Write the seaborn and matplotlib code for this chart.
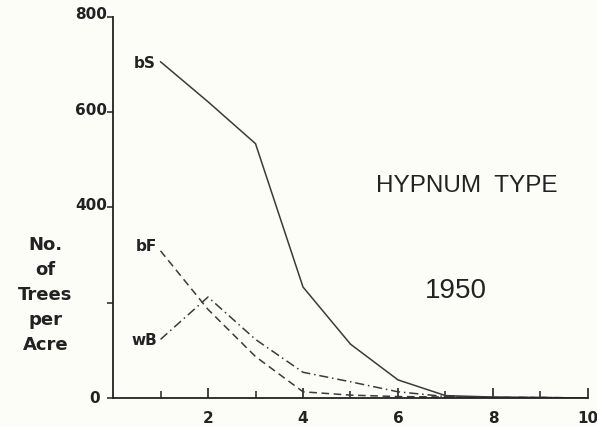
import matplotlib
matplotlib.use("Agg")
import matplotlib.pyplot as plt
import matplotlib.transforms as mtransforms
import seaborn as sns
import pandas as pd

# Data
x_vals = [1, 2, 3, 4, 5, 6, 7, 8, 9, 10]
bS = [706, 622, 534, 233, 113, 38, 5, 2, 1, 0]
bF = [309, 186, 87, 13, 6, 3, 2, 1, 1, 0]
wB = [123, 212, 123, 54, 34, 13, 3, 1, 1, 0]
y_ticks = [0, 200, 400, 600, 800]
y_tick_labels = ["0", "", "400", "600", "800"]
x_ticks = [2, 4, 6, 8, 10]
x_tick_labels = ["2", "4", "6", "8", "10"]

rows = []
for name, vals in [("bS", bS), ("bF", bF), ("wB", wB)]:
    for xv, yv in zip(x_vals, vals):
        rows.append({"dbh": xv, "n": yv, "species": name})
df = pd.DataFrame(rows)

sns.set_theme(style="ticks")
plt.rcParams["font.family"] = ["Liberation Sans", "DejaVu Sans"]

bg = "#fdfdf7"
ink = "#222222"
fig = plt.figure(figsize=(5.97, 4.27), dpi=100, facecolor=bg)
ax = fig.add_axes([0.1893, 0.0656, 0.7956, 0.8923])
ax.set_facecolor(bg)

styles = {"bS": "-", "bF": (0, (5, 3)), "wB": (0, (6, 2.5, 1, 2.5))}
lc = "#3a3a3a"
for name in ["bS", "bF", "wB"]:
    sub = df[df["species"] == name]
    sns.lineplot(data=sub, x="dbh", y="n", ax=ax, color=lc, linewidth=1.1,
                 legend=False)
    ax.lines[-1].set_linestyle(styles[name])

ax.set_xlim(0, 10)
ax.set_ylim(0, 800)
for s in ["top", "right"]:
    ax.spines[s].set_visible(False)
for s in ["left", "bottom"]:
    ax.spines[s].set_color(ink)
    ax.spines[s].set_linewidth(1.3)

tick_font = dict(family="DejaVu Sans", weight="bold", size=11)
ax.set_yticks(y_ticks)
ax.set_yticklabels(y_tick_labels, color=ink, **tick_font)
ax.set_xticks(x_ticks)
ax.set_xticklabels(x_tick_labels, color=ink, **tick_font)
ax.set_xticks([1, 3, 5, 7, 9], minor=True)
ax.tick_params(axis="x", which="major", direction="in", length=7, width=1.2, pad=9, color=ink)
ax.tick_params(axis="x", which="minor", direction="in", length=5, width=1.1, color=ink)
ax.tick_params(axis="y", direction="out", length=4, width=1.1, pad=0, color=ink)
for lbl, yt in zip(ax.get_yticklabels(), y_ticks):
    lbl.set_verticalalignment("center")
    if yt == 0:
        off = mtransforms.ScaledTranslation(-8 / 100, 0, fig.dpi_scale_trans)
    else:
        off = mtransforms.ScaledTranslation(0, 3 / 100, fig.dpi_scale_trans)
    lbl.set_transform(lbl.get_transform() + off)
ax.set_xlabel("")
ax.set_ylabel("")

# Series labels
lab_font = dict(family="DejaVu Sans", weight="bold", size=11, color=ink, va="center")
ax.text(0.44, 704, "bS", **lab_font)
ax.text(0.48, 321, "bF", **lab_font)
ax.text(0.38, 122, "wB", **lab_font)

ax.text(7.45, 447, "HYPNUM  TYPE", fontsize=17.5, color=ink, ha="center", va="center")
ax.text(7.22, 227, "1950", fontsize=20, color=ink, ha="center", va="center")

fig.text(0.076, 0.309, "No.\nof\nTrees\nper\nAcre", family="DejaVu Sans", fontsize=13,
         fontweight="bold", color=ink, ha="center", va="center", linespacing=1.5)

fig.savefig("out.png", dpi=100, facecolor=bg)
